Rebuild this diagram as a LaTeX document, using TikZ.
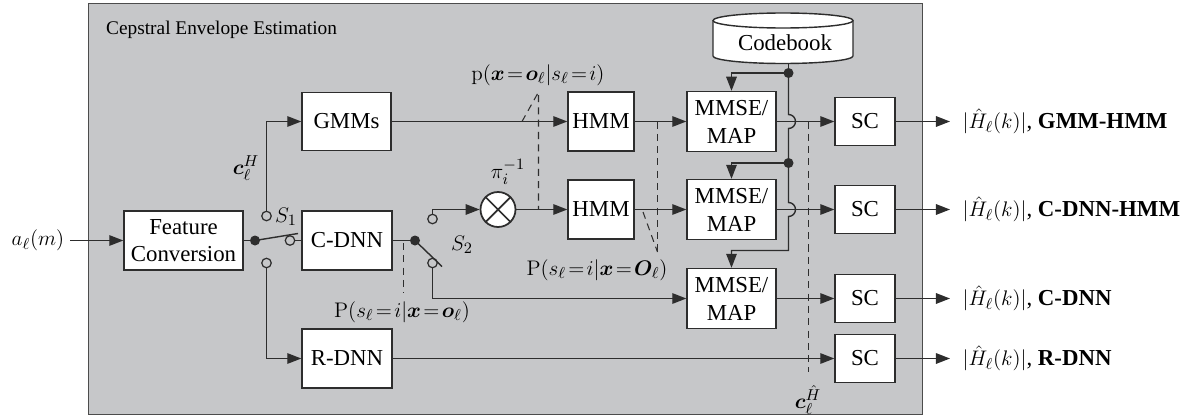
\documentclass[tikz,border=0pt]{standalone}
\usepackage{bm}
\usepackage[no-math]{fontspec}
\setmainfont{Liberation Serif}
\usetikzlibrary{arrows.meta}

\definecolor{bggray}{RGB}{198,199,201}
\definecolor{linegray}{RGB}{45,45,45}

\begin{document}
\begin{tikzpicture}[x=0.02cm, y=-0.02cm,
  every node/.style={font=\fontsize{13}{15.5}\selectfont},
  block/.style={draw=linegray, fill=white, line width=0.8pt, inner sep=0pt, align=center},
  conn/.style={draw=linegray, line width=0.8pt},
  arr/.style={conn, -{Triangle[length=8pt,width=6pt]}},
  dot/.style={circle, fill=linegray, inner sep=0pt, minimum size=0.2cm},
  opencirc/.style={circle, draw=linegray, line width=0.7pt, inner sep=0pt, minimum size=0.19cm},
  dashline/.style={draw=linegray, line width=0.6pt, dash pattern=on 4pt off 3pt},
  lbl/.style={inner sep=1pt}]

\useasboundingbox (0,0) rectangle (1202,419);

% shaded estimation area
\draw[fill=bggray, draw=black!70, line width=1pt] (88.5,3.5) rectangle (922.5,414.5);
\node[anchor=west, font=\fontsize{11}{13}\selectfont] (title) at (100,30) {Cepstral Envelope Estimation};

% input
\node (ain) at (38,240.5) {$a_\ell(m)$};

% processing blocks
\node[block, minimum width=2.38cm, minimum height=1.18cm] (fc) at (183.5,240.5) {Feature\\Conversion};
\node[block, minimum width=1.78cm, minimum height=1.16cm] (gmm) at (346.5,121.5) {GMMs};
\node[block, minimum width=1.8cm, minimum height=1.18cm] (cdnn) at (347,240.5) {C-DNN};
\node[block, minimum width=1.8cm, minimum height=1.18cm] (rdnn) at (347,358.5) {R-DNN};

\node[block, minimum width=1.32cm, minimum height=1.18cm] (hmmA) at (601,121.5) {HMM};
\node[block, minimum width=1.32cm, minimum height=1.18cm] (hmmB) at (601,209.5) {HMM};

\node[block, minimum width=1.78cm, minimum height=1.2cm, font=\fontsize{13}{16}\selectfont] (mmseA) at (731.5,121.5) {MMSE/\\MAP};
\node[block, minimum width=1.78cm, minimum height=1.2cm, font=\fontsize{13}{16}\selectfont] (mmseB) at (731.5,209.5) {MMSE/\\MAP};
\node[block, minimum width=1.78cm, minimum height=1.2cm, font=\fontsize{13}{16}\selectfont] (mmseC) at (731.5,298.5) {MMSE/\\MAP};

\node[block, minimum width=1.2cm, minimum height=0.96cm] (scA) at (865,121.5) {SC};
\node[block, minimum width=1.2cm, minimum height=0.96cm] (scB) at (865,209.5) {SC};
\node[block, minimum width=1.2cm, minimum height=0.96cm] (scC) at (865,298.5) {SC};
\node[block, minimum width=1.2cm, minimum height=0.96cm] (scD) at (865,358.5) {SC};

% multiplier
\node[circle, draw=linegray, fill=white, line width=1pt, minimum size=0.7cm, inner sep=0pt] (mult) at (498,209.5) {};
\draw[conn, line width=1pt] (mult.north west) -- (mult.south east) (mult.north east) -- (mult.south west);

% codebook cylinder
\draw[conn, fill=white] (713,20.5) -- (713,56) arc[start angle=180, end angle=360, x radius=1.4cm, y radius=0.15cm] -- (853,20.5);
\draw[conn, fill=white] (783,20.5) ellipse [x radius=1.4cm, y radius=0.15cm];
\node (cb) at (785,43) {Codebook};
\coordinate (cbout) at (788.5,63);

% switch S1
\node[dot] (d1) at (255,240.5) {};
\node[opencirc] (s1a) at (266.5,216) {};
\node[opencirc] (s1b) at (290,240.5) {};
\node[opencirc] (s1c) at (266.5,263) {};
\coordinate (s1arm) at (298,233.5);
\node[lbl] (ls1) at (286,217) {$S_1$};
\node[lbl] (lch1) at (246,168) {$\bm{c}_\ell^{H}$};

% switch S2
\node[dot] (d2) at (415,240.5) {};
\node[opencirc] (s2a) at (432.5,219) {};
\node[opencirc] (s2b) at (432.5,263) {};
\coordinate (s2arm) at (442,266.5);
\node[lbl] (ls2) at (462,245) {$S_2$};

% signal flow
\draw[arr] (ain) -- (fc);
\draw[conn] (fc) -- (d1);
\draw[conn] (d1.center) -- (s1arm);
\draw[conn] (s1b) -- (cdnn);
\draw[arr] (s1a.north) |- (gmm.west);
\draw[arr] (s1c.south) |- (rdnn.west);

\draw[conn] (cdnn) -- (d2);
\draw[conn] (d2.center) -- (s2arm);
\draw[arr] (s2a.north) |- (mult.west);
\draw[arr] (s2b.south) |- (mmseC.west);

\draw[arr] (gmm) -- (hmmA);
\draw[arr] (mult) -- (hmmB);
\draw[arr] (hmmA) -- (mmseA);
\draw[arr] (hmmB) -- (mmseB);
\draw[arr] (mmseA) -- (scA);
\draw[arr] (mmseB) -- (scB);
\draw[arr] (mmseC) -- (scC);
\draw[arr] (rdnn) -- (scD);

% codebook distribution with line hops
\node[dot] (cA) at (788.5,73) {};
\node[dot] (cB) at (788.5,163) {};
\draw[conn] (cbout) -- (cA.center);
\draw[arr] (cA.center) -| (mmseA.north);
\draw[conn] (cA.center) -- (788.5,114.5) arc[start angle=90, end angle=-90, radius=0.14cm] -- (cB.center);
\draw[arr] (cB.center) -| (mmseB.north);
\draw[arr] (cB.center) -- (788.5,202.5) arc[start angle=90, end angle=-90, radius=0.14cm] -- (788.5,250.5) -| (mmseC.north);

% probabilities and parameters
\node[lbl] (lpi) at (508,172) {$\pi_i^{-1}$};
\node[lbl] (lp1) at (538,75) {$\mathrm{p}(\bm{x}\!=\!\bm{o}_\ell|s_\ell\!=\!i)$};
\coordinate (k1) at (538.5,92);
\coordinate (k1a) at (522,121.5);
\coordinate (k1b) at (538.5,209.5);
\draw[dashline] (k1a) -- (k1) -- (k1b);

\node[lbl] (lp2) at (597,270) {$\mathrm{P}(s_\ell\!=\!i|\bm{x}\!=\!\bm{O}_\ell)$};
\coordinate (k2) at (657.5,252);
\coordinate (k2a) at (657.5,121.5);
\coordinate (k2b) at (643,212);
\draw[dashline] (k2a) -- (k2);
\draw[dashline] (k2b) -- (k2);

\node[lbl] (lp3) at (402,312) {$\mathrm{P}(s_\ell\!=\!i|\bm{x}\!=\!\bm{o}_\ell)$};
\coordinate (k3a) at (403.5,243);
\coordinate (k3b) at (403.5,293);
\draw[dashline] (k3a) -- (k3b);

\node[lbl] (lch2) at (808,400) {$\bm{c}_\ell^{\hat{H}}$};
\coordinate (k4a) at (808.5,121.5);
\coordinate (k4b) at (808.5,372);
\draw[dashline] (k4a) -- (k4b);

% outputs
\node[anchor=west, inner xsep=7pt, inner ysep=1pt] (oA) at (950,121.5) {$|\hat{H}_\ell(k)|$, \textbf{GMM-HMM}};
\node[anchor=west, inner xsep=7pt, inner ysep=1pt] (oB) at (950,209.5) {$|\hat{H}_\ell(k)|$, \textbf{C-DNN-HMM}};
\node[anchor=west, inner xsep=7pt, inner ysep=1pt] (oC) at (950,298.5) {$|\hat{H}_\ell(k)|$, \textbf{C-DNN}};
\node[anchor=west, inner xsep=7pt, inner ysep=1pt] (oD) at (950,358.5) {$|\hat{H}_\ell(k)|$, \textbf{R-DNN}};
\draw[arr] (scA) -- (oA);
\draw[arr] (scB) -- (oB);
\draw[arr] (scC) -- (oC);
\draw[arr] (scD) -- (oD);

\end{tikzpicture}
\end{document}
